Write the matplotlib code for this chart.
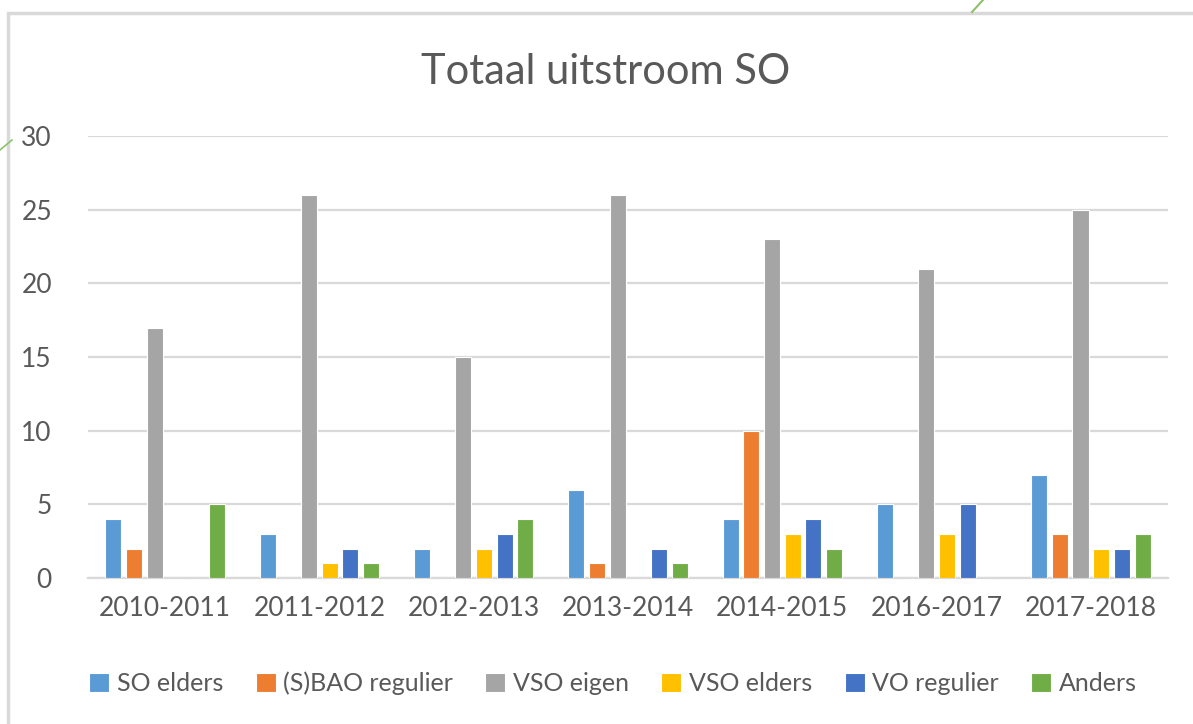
import numpy as np
import matplotlib.pyplot as plt
import matplotlib as mpl
from matplotlib.patches import Rectangle
from matplotlib.lines import Line2D

mpl.rcParams['font.family'] = ['Lato', 'DejaVu Sans']

years = ['2010-2011', '2011-2012', '2012-2013', '2013-2014', '2014-2015', '2016-2017', '2017-2018']
series_names = ['SO elders', '(S)BAO regulier', 'VSO eigen', 'VSO elders', 'VO regulier', 'Anders']
so_elders = [4, 3, 2, 6, 4, 5, 7]
sbao_regulier = [2, 0, 0, 1, 10, 0, 3]
vso_eigen = [17, 26, 15, 26, 23, 21, 25]
vso_elders = [0, 1, 2, 0, 3, 3, 2]
vo_regulier = [0, 2, 3, 2, 4, 5, 2]
anders = [5, 1, 4, 1, 2, 0, 3]
yticks = [0, 5, 10, 15, 20, 25, 30]

colors = ['#5B9BD5', '#ED7D31', '#A5A5A5', '#FFC000', '#4472C4', '#70AD47']
TXT = '#595959'
GRID = '#d9d9d9'

fig = plt.figure(figsize=(11.93, 7.24), dpi=100)
ax = fig.add_axes([88/1193, 146/724, 1080/1193, 442/724])

x = np.arange(len(years))
step = 0.134
width = 0.104
all_series = [so_elders, sbao_regulier, vso_eigen, vso_elders, vo_regulier, anders]
for i, (vals, c, name) in enumerate(zip(all_series, colors, series_names)):
    ax.bar(x + (i - 2.5) * step, vals, width=width, color=c, edgecolor='white',
           linewidth=0.8, label=name, zorder=3)

ax.set_xlim(-0.5, len(years) - 0.5)
ax.set_ylim(0, 30)
ax.set_yticks(yticks)
ax.set_xticks(x)
ax.set_xticklabels(years)
ax.tick_params(axis='both', length=0, labelsize=19, colors=TXT)
ax.tick_params(axis='x', pad=13)
ax.tick_params(axis='y', pad=26)
ax.grid(axis='y', color=GRID, linewidth=1.6, zorder=0)
for s in ['top', 'right', 'left']:
    ax.spines[s].set_visible(False)
ax.spines['bottom'].set_color(GRID)
ax.spines['bottom'].set_linewidth(1.6)

fig.text(606/1193, 1 - 72/724, 'Totaal uitstroom SO', ha='center', va='center',
         fontsize=30, color=TXT)

leg = fig.legend(loc='center', bbox_to_anchor=(613/1193, 1 - 683/724), ncol=6,
                 frameon=False, fontsize=18, handlelength=0.8, handleheight=0.8,
                 handletextpad=0.3, columnspacing=1.3, labelcolor=TXT)

# chart frame and decorative slide lines
fig.patches.append(Rectangle((8/1193, -0.1), 1.2, 1 - 13/724 + 0.1, transform=fig.transFigure,
                             fill=False, edgecolor=GRID, linewidth=2.5))
fig.lines.append(Line2D([972/1193, 983/1193], [1 - 12/724, 1.0], transform=fig.transFigure,
                        color='#8dc26a', linewidth=1.5))
fig.lines.append(Line2D([0, 12/1193], [1 - 150/724, 1 - 140/724], transform=fig.transFigure,
                        color='#8dc26a', linewidth=1.2))

fig.savefig('out.png', dpi=100)
